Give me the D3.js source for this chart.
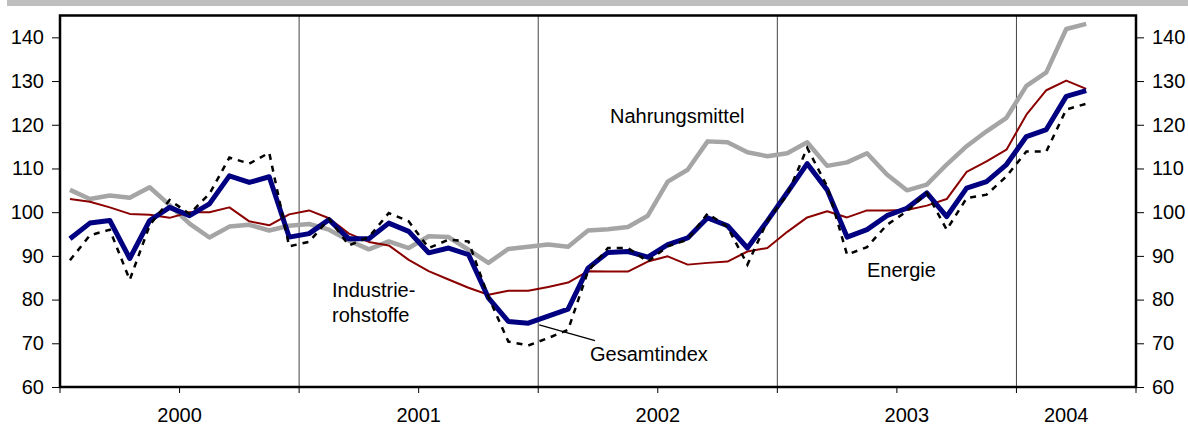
<!DOCTYPE html>
<html>
<head>
<meta charset="utf-8">
<script src="https://cdn.jsdelivr.net/npm/d3@7"></script>
<style>
  body { margin: 0; background: #fff; }
  svg text { font-family: "Liberation Sans", Arial, Helvetica, sans-serif; font-size: 20px; fill: #000; }
</style>
</head>
<body>
<div id="chart"></div>
<script>
'use strict';
// monthly values, Jan 2000 .. Apr 2004
const gesamtindex = [93.9, 97.5, 98.1, 89.4, 98.1, 101.1, 99.2, 101.9, 108.3, 106.8, 108.1, 94.3,
  95.1, 98.3, 93.9, 93.9, 97.5, 95.6, 90.7, 91.8, 90.3, 80.4, 75.0, 74.6,
  76.2, 77.8, 87.2, 90.8, 91.0, 89.7, 92.6, 94.1, 98.7, 96.9, 91.8, 98.0,
  104.5, 111.1, 105.1, 94.3, 96.0, 99.2, 100.9, 104.4, 99.0, 105.5, 107.0, 110.9,
  117.3, 118.9, 126.5, 127.8];
const energie = [89.0, 94.7, 96.0, 84.5, 97.0, 102.8, 99.6, 104.2, 112.5, 111.1, 113.6, 92.2,
  93.2, 98.5, 92.4, 94.3, 99.8, 97.9, 91.8, 93.7, 93.3, 80.6, 70.4, 69.5,
  71.2, 73.1, 86.5, 91.8, 91.8, 88.7, 92.2, 93.7, 99.7, 96.6, 88.0, 98.0,
  104.0, 114.7, 105.9, 90.3, 92.0, 97.1, 100.2, 104.4, 96.0, 103.2, 104.0, 108.2,
  113.9, 113.9, 123.5, 124.8];
const industrierohstoffe = [103.0, 102.4, 101.1, 99.6, 99.4, 98.7, 100.0, 100.0, 101.1, 97.9, 97.0, 99.5,
  100.4, 98.6, 95.1, 93.2, 92.4, 89.1, 86.5, 84.6, 82.7, 81.1, 82.0, 82.0,
  82.9, 83.9, 86.5, 86.4, 86.4, 88.7, 89.9, 88.0, 88.4, 88.7, 91.0, 91.8,
  95.5, 98.8, 100.2, 98.8, 100.4, 100.4, 100.5, 101.5, 103.0, 109.2, 111.6, 114.3,
  122.3, 127.9, 130.1, 128.2];
const nahrungsmittel = [105.1, 103.0, 103.8, 103.3, 105.7, 101.6, 97.4, 94.2, 96.7, 97.1, 95.8, 96.9,
  97.3, 96.0, 93.5, 91.5, 93.3, 91.8, 94.5, 94.3, 91.4, 88.4, 91.6, 92.1,
  92.6, 92.1, 95.8, 96.1, 96.6, 99.2, 107.0, 109.7, 116.2, 116.0, 113.7, 112.8,
  113.5, 116.0, 110.6, 111.4, 113.5, 108.6, 105.0, 106.3, 110.9, 115.1, 118.5, 121.6,
  128.9, 132.0, 141.9, 143.1];

const yearLabels = ["2000", "2001", "2002", "2003", "2004"];
const yearLabelMonth = [6, 18, 30, 42.5, 50.5];
const yearBreaks = [12, 24, 36, 48];
const halfYearTicks = [0, 6, 12, 18, 24, 30, 36, 42, 48, 54];
const yTicks = [60, 70, 80, 90, 100, 110, 120, 130, 140];

const width = 1188, height = 426;
const plotLeft = 60, plotRight = 1136, plotTop = 15.5, plotBottom = 387;

const svg = d3.select("#chart").append("svg")
  .attr("width", width)
  .attr("height", height);

// grey title band (title itself is cut off)
svg.append("rect")
  .attr("x", 7).attr("y", 0)
  .attr("width", width - 7).attr("height", 6)
  .attr("fill", "#bfbfbf");

const x = d3.scaleLinear().domain([0, 54]).range([plotLeft, plotRight]);
const y = d3.scaleLinear().domain([60, 145]).range([plotBottom, plotTop]);

// year separators
svg.append("g").selectAll("line")
  .data(yearBreaks)
  .enter().append("line")
  .attr("x1", d => x(d)).attr("x2", d => x(d))
  .attr("y1", plotTop).attr("y2", plotBottom)
  .attr("stroke", "#444")
  .attr("stroke-width", 1);

// x ticks below axis
svg.append("g").selectAll("line")
  .data(halfYearTicks)
  .enter().append("line")
  .attr("x1", d => x(d)).attr("x2", d => x(d))
  .attr("y1", plotBottom).attr("y2", plotBottom + 6)
  .attr("stroke", "#000")
  .attr("stroke-width", 1);

svg.append("g").selectAll("text")
  .data(yearLabels)
  .enter().append("text")
  .attr("x", (d, i) => x(yearLabelMonth[i]))
  .attr("y", 422)
  .attr("text-anchor", "middle")
  .text(d => d);

// y axes
let yAxisL = d3.axisLeft(y).tickValues(yTicks).tickSize(8).tickPadding(8);
let yAxisR = d3.axisRight(y).tickValues(yTicks).tickSize(8).tickPadding(8);
let gl = svg.append("g").attr("transform", "translate(" + plotLeft + ",0)").call(yAxisL);
let gr = svg.append("g").attr("transform", "translate(" + plotRight + ",0)").call(yAxisR);
[gl, gr].forEach(function (g) {
  g.attr("font-size", null).attr("font-family", null);
  g.select(".domain").remove();
  g.selectAll("line").attr("stroke", "#000");
});

// lines
const line = d3.line()
  .x((d, i) => x(i + 0.5))
  .y(d => y(d));

svg.append("path").datum(nahrungsmittel)
  .attr("d", line).attr("fill", "none")
  .attr("stroke", "#a5a5a5").attr("stroke-width", 4.5)
  .attr("stroke-linejoin", "round");
svg.append("path").datum(industrierohstoffe)
  .attr("d", line).attr("fill", "none")
  .attr("stroke", "#8b0000").attr("stroke-width", 2)
  .attr("stroke-linejoin", "round");
svg.append("path").datum(gesamtindex)
  .attr("d", line).attr("fill", "none")
  .attr("stroke", "#000080").attr("stroke-width", 5)
  .attr("stroke-linejoin", "round");
svg.append("path").datum(energie)
  .attr("d", line).attr("fill", "none")
  .attr("stroke", "#000").attr("stroke-width", 2.5)
  .attr("stroke-dasharray", "6,6");

// frame
svg.append("rect")
  .attr("x", plotLeft).attr("y", plotTop)
  .attr("width", plotRight - plotLeft).attr("height", plotBottom - plotTop)
  .attr("fill", "none")
  .attr("stroke", "#000").attr("stroke-width", 2.5);

// annotations
svg.append("text").attr("x", x(27.6)).attr("y", 123).text("Nahrungsmittel");
svg.append("text").attr("x", x(13.65)).attr("y", 297).text("Industrie-");
svg.append("text").attr("x", x(13.65)).attr("y", 322).text("rohstoffe");
svg.append("text").attr("x", x(40.5)).attr("y", 277).text("Energie");
svg.append("text").attr("x", x(26.6)).attr("y", 361).text("Gesamtindex");
svg.append("line")
  .attr("x1", x(24.05)).attr("y1", y(74.2))
  .attr("x2", x(26.85)).attr("y2", y(70.6))
  .attr("stroke", "#000").attr("stroke-width", 1.3);
</script>
</body>
</html>
